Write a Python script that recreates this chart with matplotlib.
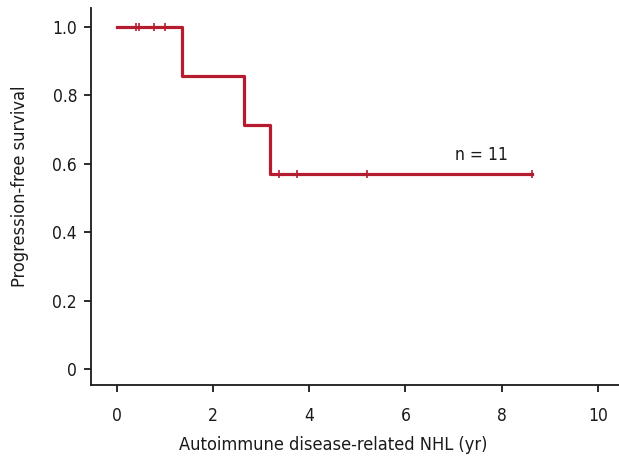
import numpy as np
import matplotlib
matplotlib.use('Agg')
import matplotlib.pyplot as plt

plt.rcParams['font.family'] = ['DejaVu Sans']
plt.rcParams['font.stretch'] = 'condensed'

# Kaplan-Meier steps (time in years, survival)
step_t = [0.0, 1.35, 2.65, 3.18, 8.63]
step_s = [1.0, 0.857, 0.714, 0.571, 0.571]
# censored observations
cens_t = [0.39, 0.46, 0.78, 1.0, 3.38, 3.74, 5.21, 8.63]
cens_s = [1.0, 1.0, 1.0, 1.0, 0.571, 0.571, 0.571, 0.571]

xticks = [0, 2, 4, 6, 8, 10]
yticks = [0, 0.2, 0.4, 0.6, 0.8, 1.0]
ylabels = ['0', '0.2', '0.4', '0.6', '0.8', '1.0']

red = '#b51c2f'
ink = '#1a1a1a'

fig = plt.figure(figsize=(6.19, 4.59), dpi=100)
ax = fig.add_axes([0.147, 0.161, 0.853, 0.822])

ax.step(step_t, step_s, where='post', color=red, lw=2.3)
ax.plot(cens_t, cens_s, linestyle='none', marker='|', ms=6, mew=1.2, color=red)
ax.text(7.57, 0.627, 'n = 11', fontsize=12.5, ha='center', va='center', color=ink)

ax.set_xlim(-0.54, 10.44)
ax.set_ylim(-0.047, 1.056)
ax.set_xticks(xticks)
ax.set_yticks(yticks)
ax.set_yticklabels(ylabels)
ax.spines['top'].set_visible(False)
ax.spines['right'].set_visible(False)
for s in ['left', 'bottom']:
    ax.spines[s].set_linewidth(1.3)
    ax.spines[s].set_color(ink)
ax.tick_params(axis='both', length=5, width=1.3, labelsize=12.5, colors=ink)
ax.tick_params(axis='x', pad=11)
ax.tick_params(axis='y', pad=5)

ax.set_xlabel('Autoimmune disease-related NHL (yr)', fontsize=13.1, color=ink)
ax.set_ylabel('Progression-free survival', fontsize=13.1, color=ink)
ax.xaxis.set_label_coords(0.458, -0.134)
ax.yaxis.set_label_coords(-0.117, 0.528)

fig.savefig('out.png', dpi=100)
